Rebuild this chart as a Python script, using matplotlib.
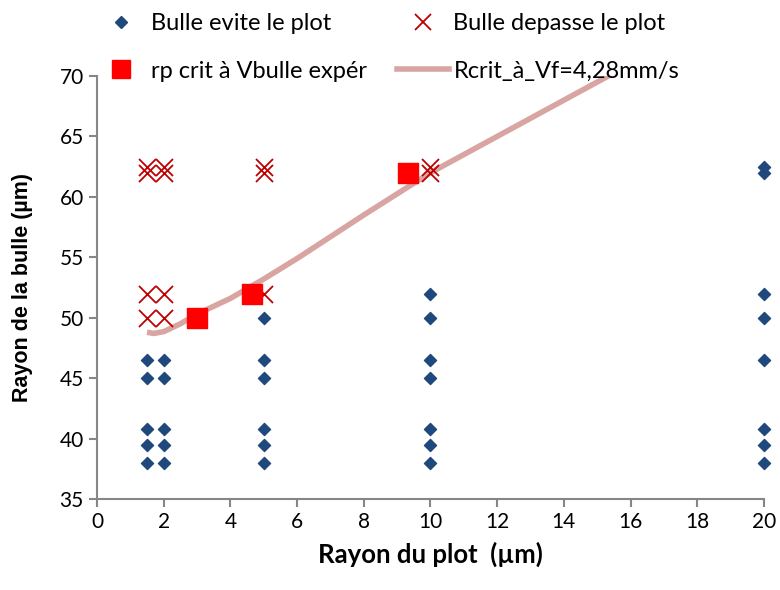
import matplotlib.pyplot as plt
from matplotlib.lines import Line2D

plt.rcParams['font.family'] = ['Lato', 'DejaVu Sans']

# Bulle evite le plot
evite_x = [1.5] * 5 + [2] * 5 + [5] * 6 + [10] * 7 + [20] * 8
evite_y = ([38, 39.5, 40.8, 45, 46.5] * 2
           + [38, 39.5, 40.8, 45, 46.5, 50]
           + [38, 39.5, 40.8, 45, 46.5, 50, 52]
           + [38, 39.5, 40.8, 46.5, 50, 52, 62, 62.5])

# Bulle depasse le plot
depasse_x = [1.5, 1.5, 1.5, 1.5, 2, 2, 2, 2, 5, 5, 5, 10, 10]
depasse_y = [50, 52, 62, 62.5, 50, 52, 62, 62.5, 52, 62, 62.5, 62, 62.5]

# rp crit a Vbulle experimental
crit_x = [3, 4.65, 9.33]
crit_y = [50, 52, 62]

# Rcrit a Vf=4,28mm/s
rcrit_x = [1.5, 1.7, 2, 2.5, 3, 4, 5, 6, 8, 10, 12, 14, 16]
rcrit_y = [48.8, 48.7, 48.85, 49.5, 50.3, 51.6, 53.2, 54.9, 58.5, 62.0, 65.0, 68.0, 71.0]

fig = plt.figure(figsize=(7.8, 5.9), dpi=100)
ax = fig.add_axes([0.1244, 0.1542, 0.855, 0.717])

ax.plot(rcrit_x, rcrit_y, color='#D9A5A3', lw=4, solid_capstyle='butt', zorder=2)
ax.scatter(evite_x, evite_y, marker='D', s=38, color='#1F497D', zorder=3, clip_on=False)
ax.scatter(depasse_x, depasse_y, marker='x', s=150, color='#C00000', linewidths=1.3,
           zorder=3, clip_on=False)
ax.scatter(crit_x, crit_y, marker='s', s=200, color='#FF0000', zorder=4)

ax.set_xlim(0, 20)
ax.set_ylim(35, 70)
ax.set_xticks(range(0, 21, 2))
ax.set_yticks(range(35, 71, 5))

for side in ['top', 'right']:
    ax.spines[side].set_visible(False)
for side in ['left', 'bottom']:
    ax.spines[side].set_color('#868686')
    ax.spines[side].set_linewidth(1.5)
ax.tick_params(colors='#868686', width=1.5, length=6, labelcolor='black', labelsize=15)

ax.set_xlabel('Rayon du plot  (µm)', fontsize=18.5, fontweight='bold', labelpad=7)
ax.set_ylabel('Rayon de la bulle (µm)', fontsize=15.5, fontweight='bold',
              family=['Liberation Sans', 'DejaVu Sans'], labelpad=19)

# column-wise fill: left column first, then right
handles = [
    Line2D([], [], marker='D', ls='', color='#1F497D', markersize=6),
    Line2D([], [], marker='s', ls='', color='#FF0000', markersize=13),
    Line2D([], [], marker='x', ls='', color='#C00000', markersize=12, mew=1.3),
    Line2D([], [], color='#D9A5A3', lw=4),
]
labels = ['Bulle evite le plot', 'rp crit à Vbulle expér',
          'Bulle depasse le plot', 'Rcrit_à_Vf=4,28mm/s']
fig.legend(handles, labels, ncol=2, loc='upper left', bbox_to_anchor=(0.1, 1.006),
           frameon=False, fontsize=17, columnspacing=1.25, handletextpad=0.2,
           labelspacing=1.13, handlelength=2.2, borderpad=0.2)

fig.savefig('out.png', dpi=100)
